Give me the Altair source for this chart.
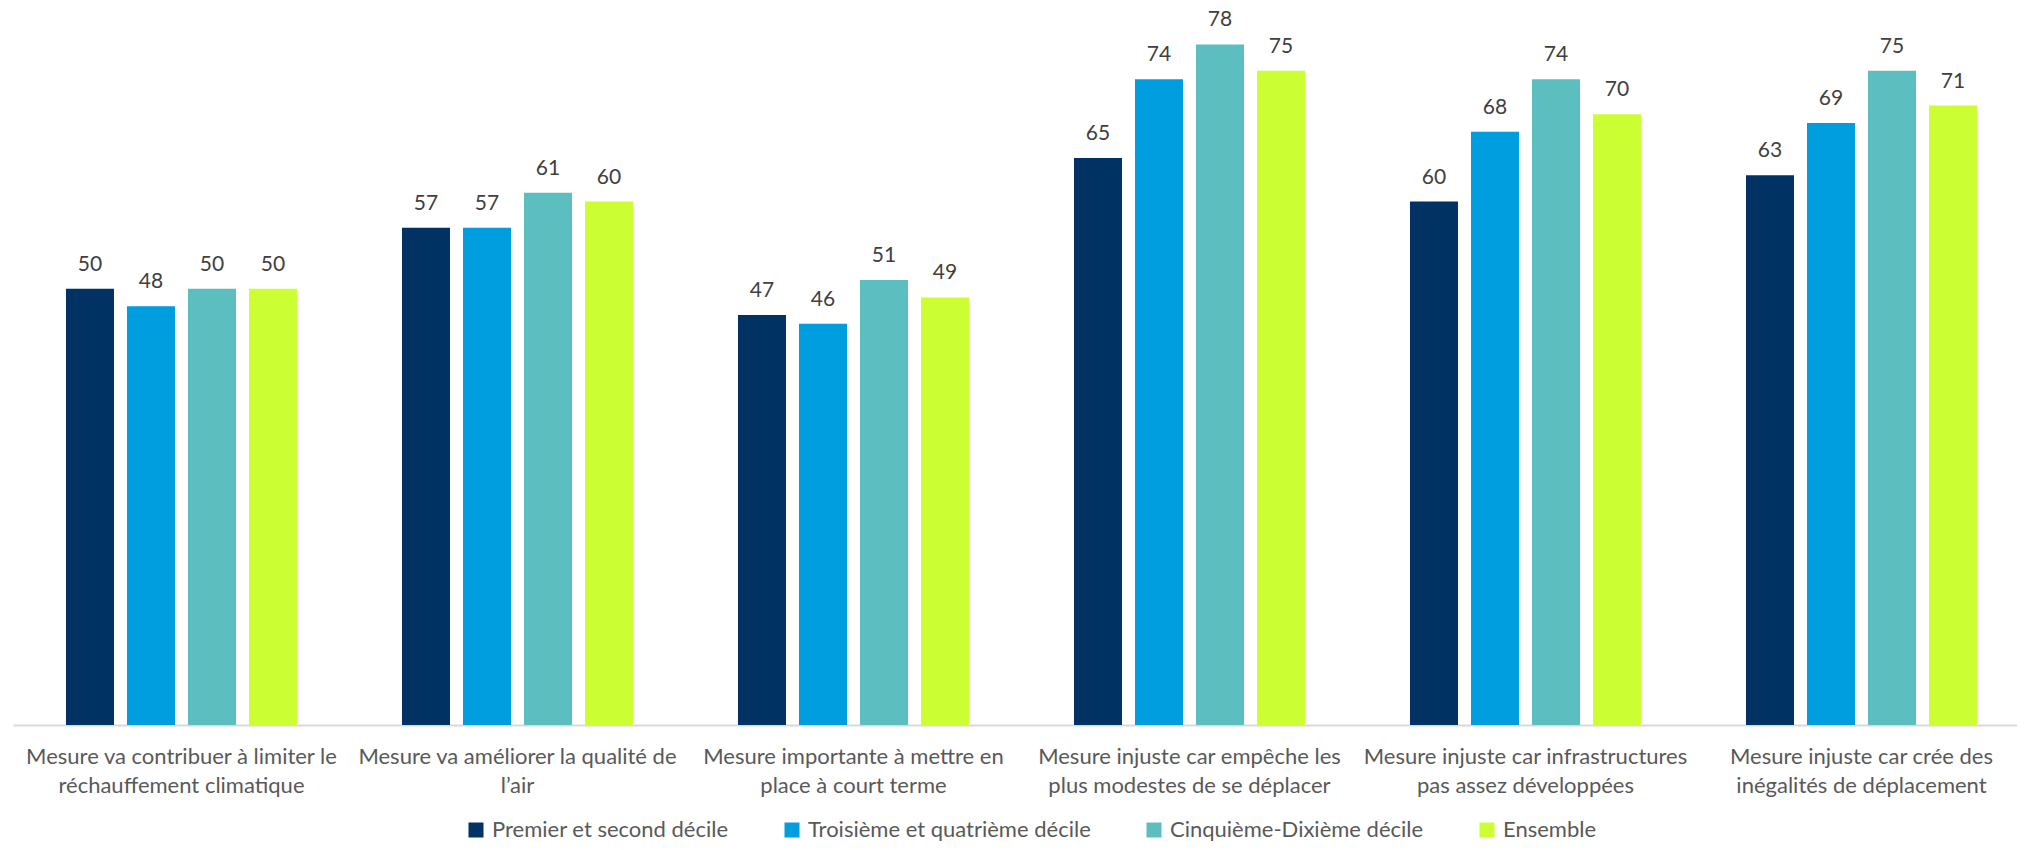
import altair as alt
import pandas as pd

categories = [
    "Mesure va contribuer à limiter le\nréchauffement climatique",
    "Mesure va améliorer la qualité de\nl’air",
    "Mesure importante à mettre en\nplace à court terme",
    "Mesure injuste car empêche les\nplus modestes de se déplacer",
    "Mesure injuste car infrastructures\npas assez développées",
    "Mesure injuste car crée des\ninégalités de déplacement",
]
series = [
    "Premier et second décile",
    "Troisième et quatrième décile",
    "Cinquième-Dixième décile",
    "Ensemble",
]
premier = [50, 57, 47, 65, 60, 63]
troisieme = [48, 57, 46, 74, 68, 69]
cinquieme = [50, 61, 51, 78, 74, 75]
ensemble = [50, 60, 49, 75, 70, 71]
colors = ["#003264", "#009DDF", "#5CBEBE", "#CCFF33"]

rows = []
for s, vals in zip(series, [premier, troisieme, cinquieme, ensemble]):
    for c, v in zip(categories, vals):
        rows.append({"cat": c, "serie": s, "val": v})
df = pd.DataFrame(rows)

FONT = "Lato"

x = alt.X(
    "cat:N",
    sort=categories,
    scale=alt.Scale(paddingInner=0.27381, paddingOuter=0.11905, align=0.581),
    axis=alt.Axis(
        title=None,
        ticks=False,
        tickSize=0,
        labelAngle=0,
        labelExpr="split(datum.label, '\\n')",
        labelFont=FONT,
        labelFontSize=22,
        labelColor="#595959",
        labelLineHeight=29,
        labelPadding=21,
        labelLimit=500,
        labelOverlap=False,
        domainColor="#D9D9D9",
        domainWidth=2,
        grid=False,
    ),
)
xo = alt.XOffset(
    "serie:N",
    sort=series,
    scale=alt.Scale(paddingInner=0.2131, paddingOuter=0.1066),
)
y = alt.Y("val:Q", scale=alt.Scale(domain=[0, 80]), axis=None)

bars = alt.Chart(df).mark_bar().encode(
    x=x,
    xOffset=xo,
    y=y,
    color=alt.Color(
        "serie:N",
        sort=series,
        scale=alt.Scale(domain=series, range=colors),
        legend=alt.Legend(
            title=None,
            orient="none",
            direction="horizontal",
            legendX=452,
            legendY=792,
            symbolType="square",
            symbolSize=225,
            symbolStrokeWidth=0,
            labelFont=FONT,
            labelFontSize=22,
            labelColor="#595959",
            labelOffset=5,
            columnPadding=52,
            labelLimit=500,
        ),
    ),
)

labels = alt.Chart(df).mark_text(
    baseline="alphabetic", dy=-18, font=FONT, fontSize=21, color="#404040"
).encode(
    x=x,
    xOffset=xo,
    y=y,
    text=alt.Text("val:Q", format=".0f"),
)

chart = (
    alt.layer(bars, labels)
    .properties(
        width=2004,
        height=698,
        autosize=alt.AutoSizeParams(type="none"),
        padding={"left": 5, "top": 19, "right": 0, "bottom": 117},
        background="white",
    )
    .configure_view(stroke=None)
)

chart.save("out.html", embed_options={"renderer": "svg", "actions": False})
